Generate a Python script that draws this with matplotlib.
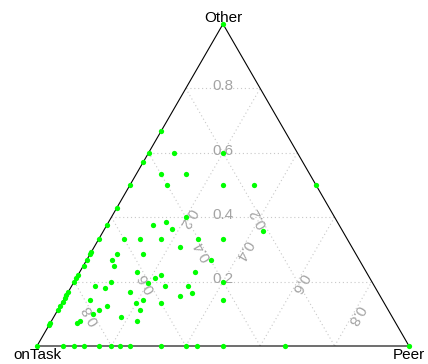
import numpy as np
import matplotlib

matplotlib.use("Agg")
import matplotlib.pyplot as plt

# Ternary plot of onTask / Other / Peer proportions
corner_labels = ["onTask", "Peer", "Other"]
grid_values = [0.2, 0.4, 0.6, 0.8]
grid_labels = ["0.2", "0.4", "0.6", "0.8"]

# composition parts (onTask = 1 - other - peer)
other = [1.0, 0.5, 0.0, 0.0,
         # left edge (peer = 0)
         0.667, 0.6, 0.571, 0.5, 0.429, 0.375, 0.333, 0.291, 0.286, 0.267, 0.25,
         0.222, 0.212, 0.2, 0.167, 0.158, 0.148, 0.138, 0.125, 0.111, 0.071, 0.065,
         # bottom edge (other = 0)
         0, 0, 0, 0, 0, 0, 0, 0, 0, 0, 0, 0,
         # interior
         0.6, 0.6, 0.533, 0.533, 0.5, 0.5, 0.5, 0.4, 0.375, 0.385, 0.364, 0.333,
         0.333, 0.333, 0.333, 0.333, 0.357, 0.308, 0.286, 0.286, 0.267, 0.25, 0.267,
         0.231, 0.222, 0.212, 0.231, 0.2, 0.2, 0.196, 0.186, 0.181, 0.186, 0.186,
         0.167, 0.165, 0.154, 0.143, 0.143, 0.133, 0.133, 0.143, 0.125, 0.111,
         0.111, 0.1, 0.09, 0.077, 0.077, 0.071]
peer = [0.0, 0.5, 1.0, 0.0,
        0, 0, 0, 0, 0, 0, 0, 0, 0, 0, 0,
        0, 0, 0, 0, 0, 0, 0, 0, 0, 0, 0,
        0.071, 0.1, 0.125, 0.167, 0.2, 0.222, 0.25, 0.333, 0.4, 0.429, 0.5, 0.667,
        0.068, 0.2, 0.067, 0.135, 0.1, 0.25, 0.333, 0.2, 0.125, 0.154, 0.182, 0.067,
        0.111, 0.167, 0.267, 0.333, 0.429, 0.231, 0.071, 0.143, 0.067, 0.083, 0.333,
        0.154, 0.222, 0.212, 0.308, 0.4, 0.1, 0.2, 0.064, 0.091, 0.25, 0.314,
        0.167, 0.335, 0.308, 0.429, 0.214, 0.2, 0.267, 0.071, 0.125, 0.111,
        0.222, 0.1, 0.182, 0.231, 0.077, 0.071]

other = np.array(other)
peer = np.array(peer)
on_task = 1 - other - peer

H = np.sqrt(3) / 2


def to_xy(o, p):
    # onTask at (0,0), Peer at (1,0), Other at top
    return p + o / 2, o * H


plt.rcParams['font.family'] = ['Liberation Sans', 'DejaVu Sans']
fig = plt.figure(figsize=(4.28, 3.64), dpi=100)
ax = fig.add_axes([37 / 428, 18 / 364, 372 / 428, 322 / 364])
ax.set_xlim(0, 1)
ax.set_ylim(0, H)
ax.axis("off")

grid_kw = dict(color="#c8c8c8", lw=0.8, ls=(0, (1, 2.5)), zorder=1)
tick_kw = dict(color="#a4a4a4", fontsize=11, ha="center", va="center",
               rotation_mode="anchor", textcoords="offset points", zorder=2)
off = 1.6
for v, lab in zip(grid_values, grid_labels):
    # Other = v
    x0, y0 = to_xy(v, 0)
    x1, y1 = to_xy(v, 1 - v)
    ax.plot([x0, x1], [y0, y1], **grid_kw)
    mx, my = to_xy(v, (1 - v) / 2)
    ax.annotate(lab, (mx, my), xytext=(0, off), rotation=0, **tick_kw)
    # Peer = v
    x0, y0 = to_xy(0, v)
    x1, y1 = to_xy(1 - v, v)
    ax.plot([x0, x1], [y0, y1], **grid_kw)
    mx, my = to_xy((1 - v) / 2, v)
    r = np.radians(240)
    ax.annotate(lab, (mx, my), xytext=(-np.sin(r) * off, np.cos(r) * off),
                rotation=240, **tick_kw)
    # onTask = v
    x0, y0 = to_xy(1 - v, 0)
    x1, y1 = to_xy(0, 1 - v)
    ax.plot([x0, x1], [y0, y1], **grid_kw)
    mx, my = to_xy((1 - v) / 2, (1 - v) / 2)
    r = np.radians(120)
    ax.annotate(lab, (mx, my), xytext=(-np.sin(r) * off, np.cos(r) * off),
                rotation=120, **tick_kw)

# triangle
ax.plot([0, 1, 0.5, 0], [0, 0, H, 0], color="black", lw=0.8, zorder=3,
        clip_on=False)

x, y = to_xy(other, peer)
ax.plot(x, y, "o", color="#00ff00", ms=3.8, mec="none", zorder=4, clip_on=False)

ax.annotate(corner_labels[0], (0, 0), xytext=(0, -6.8), textcoords="offset points",
            ha="center", va="center", fontsize=11, annotation_clip=False)
ax.annotate(corner_labels[1], (1, 0), xytext=(0, -6.3), textcoords="offset points",
            ha="center", va="center", fontsize=11, annotation_clip=False)
ax.annotate(corner_labels[2], (0.5, H), xytext=(0, 4.5), textcoords="offset points",
            ha="center", va="center", fontsize=11, annotation_clip=False)

fig.savefig("out.png", dpi=100)
